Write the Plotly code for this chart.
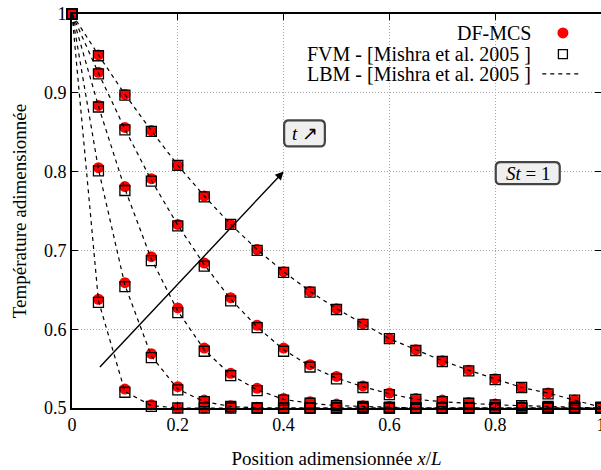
import plotly.graph_objects as go

# abscissa x/L
x_pos = [0.0, 0.05, 0.1, 0.15, 0.2, 0.25, 0.3, 0.35, 0.4, 0.45, 0.5,
         0.55, 0.6, 0.65, 0.7, 0.75, 0.8, 0.85, 0.9, 0.95, 1.0]

# DF-MCS (red circles), one list per time
dfmcs_t1 = [1.0, 0.638, 0.524, 0.504, 0.500, 0.500, 0.500, 0.500, 0.500, 0.500, 0.500,
            0.500, 0.500, 0.500, 0.500, 0.500, 0.500, 0.500, 0.500, 0.500, 0.500]
dfmcs_t2 = [1.0, 0.805, 0.659, 0.569, 0.527, 0.510, 0.503, 0.501, 0.500, 0.500, 0.500,
            0.500, 0.500, 0.500, 0.500, 0.500, 0.500, 0.500, 0.500, 0.500, 0.500]
dfmcs_t3 = [1.0, 0.884, 0.781, 0.692, 0.627, 0.576, 0.544, 0.525, 0.512, 0.508, 0.505,
            0.503, 0.502, 0.501, 0.500, 0.500, 0.500, 0.500, 0.500, 0.500, 0.500]
dfmcs_t4 = [1.0, 0.926, 0.856, 0.791, 0.733, 0.684, 0.640, 0.605, 0.576, 0.555, 0.540,
            0.528, 0.519, 0.512, 0.510, 0.507, 0.505, 0.503, 0.502, 0.501, 0.500]
dfmcs_t5 = [1.0, 0.948, 0.898, 0.852, 0.808, 0.769, 0.733, 0.701, 0.673, 0.648, 0.626,
            0.607, 0.588, 0.574, 0.560, 0.548, 0.537, 0.526, 0.519, 0.510, 0.501]

# FVM - Mishra et al. 2005 (open squares)
fvm_t1 = [1.0, 0.634, 0.520, 0.502, 0.500, 0.500, 0.500, 0.500, 0.500, 0.500, 0.500,
          0.500, 0.500, 0.500, 0.500, 0.500, 0.500, 0.500, 0.500, 0.500, 0.500]
fvm_t2 = [1.0, 0.801, 0.654, 0.564, 0.523, 0.508, 0.502, 0.500, 0.500, 0.500, 0.500,
          0.500, 0.500, 0.500, 0.500, 0.500, 0.500, 0.500, 0.500, 0.500, 0.500]
fvm_t3 = [1.0, 0.882, 0.776, 0.687, 0.621, 0.572, 0.541, 0.522, 0.510, 0.506, 0.503,
          0.502, 0.501, 0.500, 0.500, 0.500, 0.500, 0.500, 0.500, 0.500, 0.500]
fvm_t4 = [1.0, 0.924, 0.853, 0.788, 0.731, 0.680, 0.636, 0.602, 0.572, 0.552, 0.537,
          0.526, 0.517, 0.511, 0.508, 0.506, 0.504, 0.503, 0.502, 0.501, 0.500]
fvm_t5 = [1.0, 0.947, 0.897, 0.851, 0.808, 0.768, 0.733, 0.700, 0.672, 0.647, 0.625,
          0.606, 0.588, 0.573, 0.559, 0.547, 0.536, 0.526, 0.518, 0.510, 0.501]

# LBM - Mishra et al. 2005 (dashed lines)
lbm_t1 = [1.0, 0.636, 0.521, 0.503, 0.500, 0.500, 0.500, 0.500, 0.500, 0.500, 0.500,
          0.500, 0.500, 0.500, 0.500, 0.500, 0.500, 0.500, 0.500, 0.500, 0.500]
lbm_t2 = [1.0, 0.803, 0.656, 0.566, 0.524, 0.508, 0.502, 0.500, 0.500, 0.500, 0.500,
          0.500, 0.500, 0.500, 0.500, 0.500, 0.500, 0.500, 0.500, 0.500, 0.500]
lbm_t3 = [1.0, 0.883, 0.778, 0.689, 0.623, 0.574, 0.542, 0.523, 0.511, 0.506, 0.503,
          0.502, 0.501, 0.500, 0.500, 0.500, 0.500, 0.500, 0.500, 0.500, 0.500]
lbm_t4 = [1.0, 0.925, 0.854, 0.789, 0.732, 0.682, 0.638, 0.603, 0.574, 0.553, 0.538,
          0.527, 0.518, 0.511, 0.508, 0.506, 0.504, 0.503, 0.502, 0.501, 0.500]
lbm_t5 = [1.0, 0.948, 0.898, 0.852, 0.808, 0.769, 0.733, 0.701, 0.673, 0.648, 0.626,
          0.607, 0.588, 0.574, 0.560, 0.548, 0.537, 0.526, 0.519, 0.510, 0.501]

x_ticks = [0, 0.2, 0.4, 0.6, 0.8, 1]
x_tick_labels = ["0", "0.2", "0.4", "0.6", "0.8", "1"]
y_ticks = [0.5, 0.6, 0.7, 0.8, 0.9, 1]
y_tick_labels = ["0.5", "0.6", "0.7", "0.8", "0.9", "1"]

legend_labels = ["DF-MCS",
                 "FVM - [Mishra et al. 2005 ]",
                 "LBM - [Mishra et al. 2005 ]"]

dfmcs_all = [dfmcs_t1, dfmcs_t2, dfmcs_t3, dfmcs_t4, dfmcs_t5]
fvm_all = [fvm_t1, fvm_t2, fvm_t3, fvm_t4, fvm_t5]
lbm_all = [lbm_t1, lbm_t2, lbm_t3, lbm_t4, lbm_t5]

FONT = "Liberation Serif"

fig = go.Figure()

# DF-MCS circles first, squares on top, then the LBM dashed curves
for y_vals in dfmcs_all:
    fig.add_trace(go.Scatter(x=x_pos, y=y_vals, mode="markers",
                             marker=dict(symbol="circle", size=11, color="#ff0000",
                                         line=dict(width=0)),
                             cliponaxis=False, showlegend=False))
for y_vals in fvm_all:
    fig.add_trace(go.Scatter(x=x_pos, y=y_vals, mode="markers",
                             marker=dict(symbol="square-open", size=10, color="black",
                                         line=dict(width=1.3)),
                             cliponaxis=False, showlegend=False))
for y_vals in lbm_all:
    fig.add_trace(go.Scatter(x=x_pos, y=y_vals, mode="lines",
                             line=dict(color="black", width=1.2, dash="4px,4px"),
                             cliponaxis=False, showlegend=False))

# time arrow
fig.add_annotation(x=0.4, y=0.8, ax=0.05, ay=0.55, xref="x", yref="y",
                   axref="x", ayref="y", text="", showarrow=True,
                   arrowhead=2, arrowsize=1.2, arrowwidth=1.4, arrowcolor="black")


def rounded_box(x0, x1, y0, y1, rx, ry):
    return ("M {a},{y0} L {b},{y0} Q {x1},{y0} {x1},{c} L {x1},{d} "
            "Q {x1},{y1} {b},{y1} L {a},{y1} Q {x0},{y1} {x0},{d} "
            "L {x0},{c} Q {x0},{y0} {a},{y0} Z").format(
        a=x0 + rx, b=x1 - rx, c=y0 + ry, d=y1 - ry,
        x0=x0, x1=x1, y0=y0, y1=y1)


fig.add_shape(type="path", xref="x", yref="y",
              path=rounded_box(0.401, 0.478, 0.832, 0.865, 0.009, 0.006),
              fillcolor="#efefef", line=dict(color="#444444", width=2.2))
fig.add_annotation(x=0.44, y=0.848, xref="x", yref="y", showarrow=False,
                   text="<i>t</i> ↗", font=dict(family=FONT, size=19, color="black"))

fig.add_shape(type="path", xref="x", yref="y",
              path=rounded_box(0.801, 0.922, 0.784, 0.812, 0.009, 0.006),
              fillcolor="#efefef", line=dict(color="#444444", width=2.2))
fig.add_annotation(x=0.862, y=0.798, xref="x", yref="y", showarrow=False,
                   text="<i>St</i> = 1", font=dict(family=FONT, size=19, color="black"))

# gnuplot-like key: text right aligned, sample on the right
key_y = [0.952, 0.898, 0.848]
for label, ky in zip(legend_labels, key_y):
    fig.add_annotation(x=0.871, y=ky, xref="paper", yref="paper", showarrow=False,
                       xanchor="right", yanchor="middle", text=label,
                       font=dict(family=FONT, size=20, color="black"))
fig.add_shape(type="circle", xref="paper", yref="paper",
              x0=0.928 - 0.0104, x1=0.928 + 0.0104,
              y0=key_y[0] - 0.014, y1=key_y[0] + 0.014,
              fillcolor="#ff0000", line=dict(width=0))
fig.add_shape(type="rect", xref="paper", yref="paper",
              x0=0.928 - 0.0085, x1=0.928 + 0.0085,
              y0=key_y[1] - 0.0114, y1=key_y[1] + 0.0114,
              line=dict(color="black", width=1.3))
fig.add_shape(type="line", xref="paper", yref="paper",
              x0=0.889, x1=0.963, y0=key_y[2], y1=key_y[2],
              line=dict(color="black", width=1.2, dash="4px,4px"))

axis_common = dict(
    showline=True, linecolor="black", linewidth=1.6, mirror="ticks",
    ticks="inside", ticklen=6, tickcolor="black", tickwidth=1.2,
    showgrid=True, gridcolor="#a8a8a8", gridwidth=1, griddash="1px,2px",
    zeroline=False, automargin=False, ticklabeloverflow="allow",
    tickfont=dict(family=FONT, size=18, color="black"),
)

fig.update_xaxes(range=[0, 1], tickvals=x_ticks, ticktext=x_tick_labels,
                 title=dict(text="Position adimensionnée <i>x</i>/<i>L</i>",
                            font=dict(family=FONT, size=19, color="black"),
                            standoff=17),
                 **axis_common)
fig.update_yaxes(range=[0.5, 1], tickvals=y_ticks, ticktext=y_tick_labels,
                 title=dict(text="Température adimensionnée",
                            font=dict(family=FONT, size=19, color="black"),
                            standoff=12),
                 **axis_common)

fig.update_layout(width=601, height=470, autosize=False,
                  margin=dict(l=72, r=0, t=14, b=62),
                  plot_bgcolor="white", paper_bgcolor="white",
                  showlegend=False, font=dict(family=FONT))

# drop the default 8px body margin so the figure fills the window
fig.write_html("out.html", config={"displayModeBar": False},
               post_script="document.body.style.margin = '0px';")
